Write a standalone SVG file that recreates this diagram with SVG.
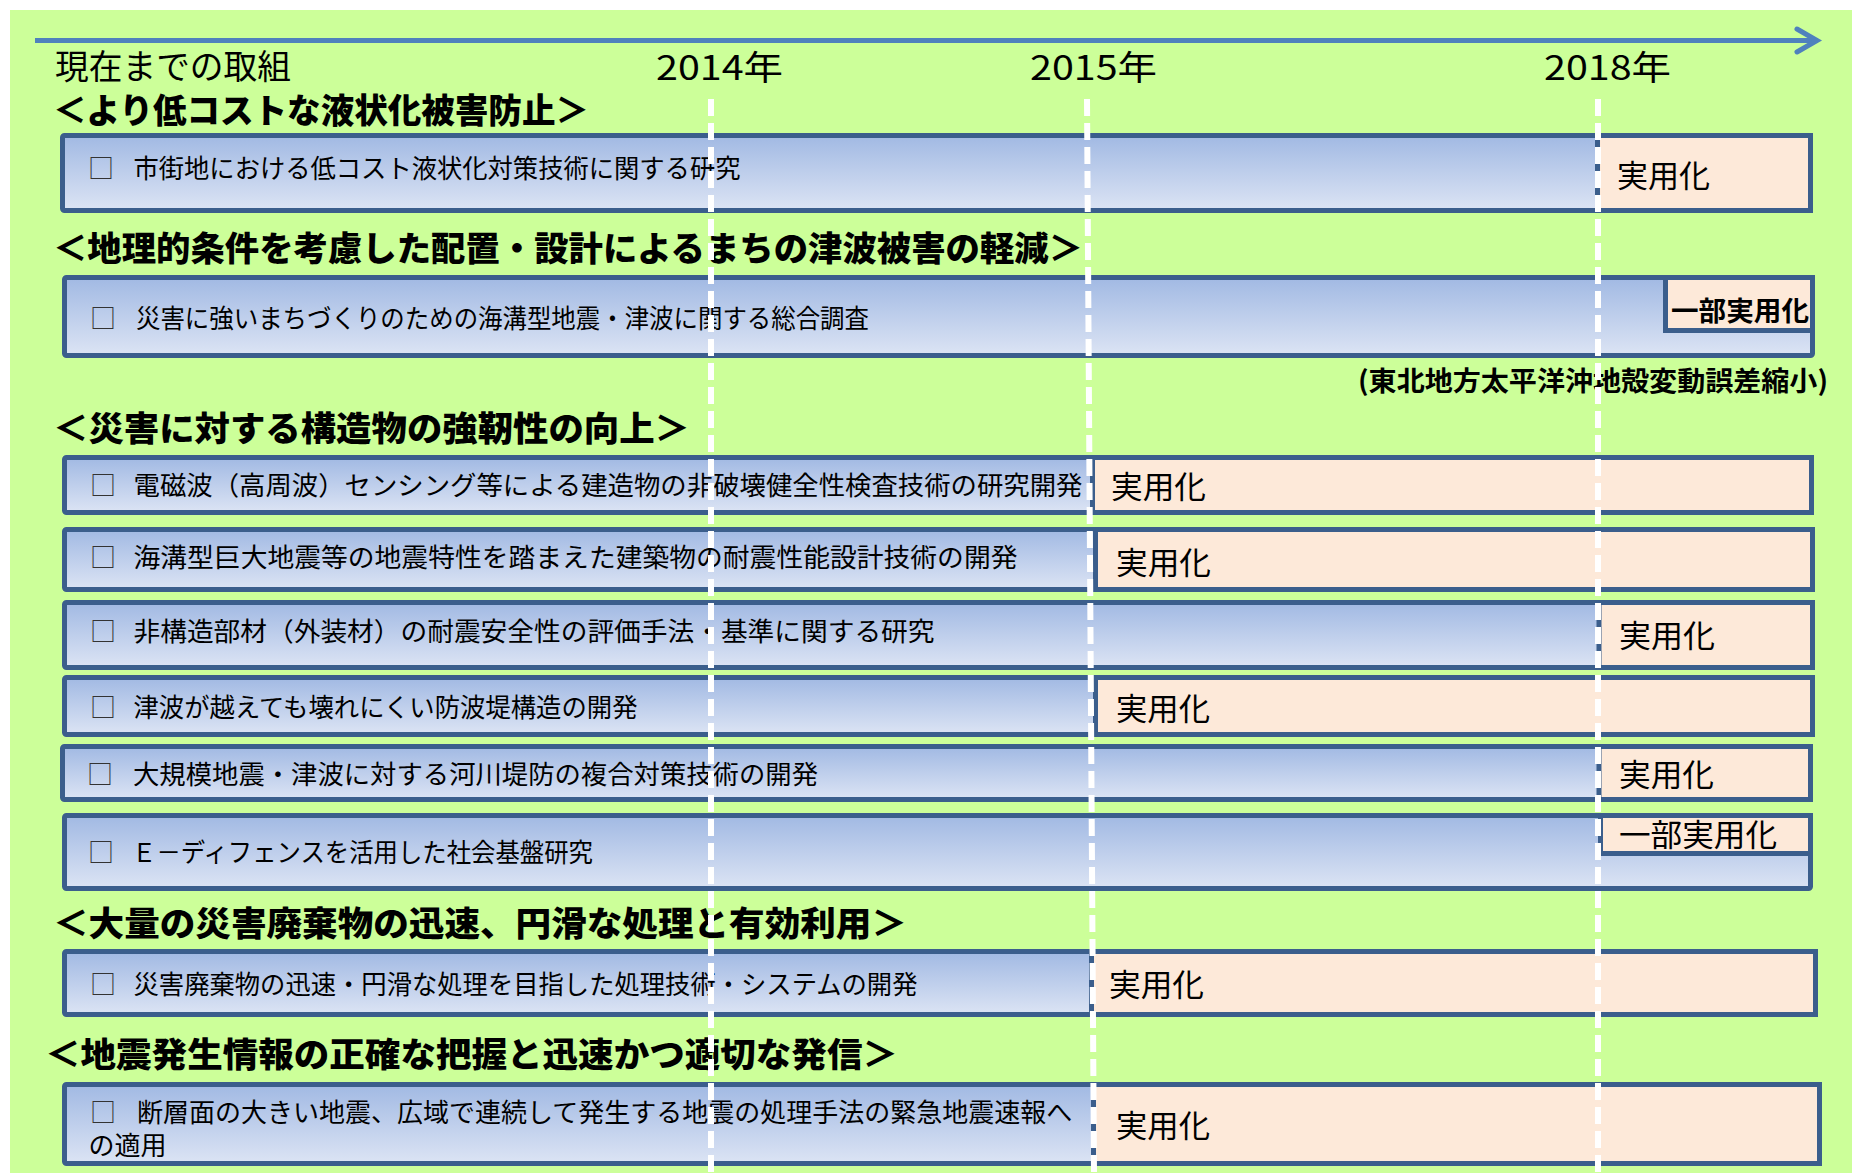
<svg xmlns="http://www.w3.org/2000/svg" width="1852" height="1173" viewBox="0 0 1852 1173">
<defs>
<linearGradient id="barGrad" x1="0" y1="0" x2="0" y2="1">
<stop offset="0" stop-color="#A1B9E3"/>
<stop offset="1" stop-color="#DCE4F4"/>
</linearGradient>
<marker id="openArrow" markerUnits="userSpaceOnUse" markerWidth="34" markerHeight="34" viewBox="-6 -17 34 34" refX="20" refY="0" orient="auto">
<path d="M0,-11.5 L20,0 L0,11.5" fill="none" stroke="#4F81BD" stroke-width="5" stroke-linecap="round"/>
</marker>
<style>
.bar{fill:url(#barGrad);stroke:#3B5E8C;stroke-width:5}
.peach{fill:#FDE9D9;stroke:#3B5E8C;stroke-width:5}
text{font-family:"Noto Sans CJK JP","Noto Sans CJK SC",sans-serif;fill:#000}
.body{font-size:26px}
.box{font-size:26px;fill:#333}
.hdr{font-size:34px;font-weight:900}
.yr{font-size:34px}
.jy{font-size:31px}
.small{font-size:27px;font-weight:700}
.grid{stroke:#FFFFFF;stroke-width:6;stroke-dasharray:17 7;fill:none}
</style>
</defs>

<g id="background">
<rect x="10" y="10" width="1842" height="1163" fill="#CCFF99"/>
</g>

<g id="connectors">
<line x1="35" y1="40.5" x2="1817" y2="40.5" stroke="#4F81BD" stroke-width="5" marker-end="url(#openArrow)"/>
</g>

<g id="timeline-labels">
<text class="yr" x="55" y="78.5" textLength="236" lengthAdjust="spacingAndGlyphs">現在までの取組</text>
<text class="yr" x="656" y="80" textLength="127" lengthAdjust="spacingAndGlyphs">2014年</text>
<text class="yr" x="1030" y="80" textLength="127" lengthAdjust="spacingAndGlyphs">2015年</text>
<text class="yr" x="1544" y="80" textLength="127" lengthAdjust="spacingAndGlyphs">2018年</text>
</g>

<g id="header-1"><text class="hdr" x="53" y="123" textLength="536" lengthAdjust="spacingAndGlyphs">＜より低コストな液状化被害防止＞</text></g>
<g id="header-2"><text class="hdr" x="53" y="261" textLength="1030" lengthAdjust="spacingAndGlyphs">＜地理的条件を考慮した配置・設計によるまちの津波被害の軽減＞</text></g>
<g id="header-3"><text class="hdr" x="53" y="441" textLength="637" lengthAdjust="spacingAndGlyphs">＜災害に対する構造物の強靭性の向上＞</text></g>
<g id="header-4"><text class="hdr" x="53" y="936" textLength="854" lengthAdjust="spacingAndGlyphs">＜大量の災害廃棄物の迅速、円滑な処理と有効利用＞</text></g>
<g id="header-5"><text class="hdr" x="45" y="1067" textLength="853" lengthAdjust="spacingAndGlyphs">＜地震発生情報の正確な把握と迅速かつ適切な発信＞</text></g>

<g id="row-1">
<rect class="bar" x="62.5" y="135.5" width="1748" height="75" rx="2"/>
<rect class="peach" x="1597.5" y="135.5" width="213" height="75"/>
<text class="box" x="88" y="177.5">□</text>
<text class="body" x="133.5" y="177.5" textLength="607" lengthAdjust="spacingAndGlyphs">市街地における低コスト液状化対策技術に関する研究</text>
<text class="jy" x="1617" y="187" textLength="93" lengthAdjust="spacingAndGlyphs">実用化</text>
</g>

<g id="row-2">
<rect class="bar" x="64.5" y="277.5" width="1748" height="78" rx="2"/>
<rect class="peach" x="1665.5" y="277.5" width="147" height="53"/>
<text class="box" x="90" y="328">□</text>
<text class="body" x="136" y="328" textLength="733" lengthAdjust="spacingAndGlyphs">災害に強いまちづくりのための海溝型地震・津波に関する総合調査</text>
<text class="small" x="1671" y="321" textLength="138" lengthAdjust="spacingAndGlyphs">一部実用化</text>
<text class="small" x="1358" y="391" textLength="470" lengthAdjust="spacingAndGlyphs">(東北地方太平洋沖地殻変動誤差縮小)</text>
</g>

<g id="row-3">
<rect class="bar" x="64.5" y="457.5" width="1747" height="55" rx="2"/>
<rect class="peach" x="1092.5" y="457.5" width="719" height="55"/>
<text class="box" x="90" y="495">□</text>
<text class="body" x="133.5" y="495" textLength="949" lengthAdjust="spacingAndGlyphs">電磁波（高周波）センシング等による建造物の非破壊健全性検査技術の研究開発</text>
<text class="jy" x="1111" y="498" textLength="95" lengthAdjust="spacingAndGlyphs">実用化</text>
</g>

<g id="row-4">
<rect class="bar" x="64.5" y="529.5" width="1748" height="60" rx="2"/>
<rect class="peach" x="1095.5" y="529.5" width="717" height="60"/>
<text class="box" x="90" y="567">□</text>
<text class="body" x="133.5" y="567" textLength="884" lengthAdjust="spacingAndGlyphs">海溝型巨大地震等の地震特性を踏まえた建築物の耐震性能設計技術の開発</text>
<text class="jy" x="1116" y="574" textLength="95" lengthAdjust="spacingAndGlyphs">実用化</text>
</g>

<g id="row-5">
<rect class="bar" x="64.5" y="602.5" width="1748" height="65" rx="2"/>
<rect class="peach" x="1599" y="602.5" width="213.5" height="65"/>
<text class="box" x="90" y="641">□</text>
<text class="body" x="133.5" y="641" textLength="801" lengthAdjust="spacingAndGlyphs">非構造部材（外装材）の耐震安全性の評価手法・基準に関する研究</text>
<text class="jy" x="1619" y="647" textLength="96" lengthAdjust="spacingAndGlyphs">実用化</text>
</g>

<g id="row-6">
<rect class="bar" x="64.5" y="677.5" width="1748" height="57" rx="2"/>
<rect class="peach" x="1095.5" y="677.5" width="717" height="57"/>
<text class="box" x="90" y="717">□</text>
<text class="body" x="133.5" y="717" textLength="504" lengthAdjust="spacingAndGlyphs">津波が越えても壊れにくい防波堤構造の開発</text>
<text class="jy" x="1116" y="720" textLength="94" lengthAdjust="spacingAndGlyphs">実用化</text>
</g>

<g id="row-7">
<rect class="bar" x="62.5" y="746.5" width="1748" height="53" rx="2"/>
<rect class="peach" x="1599" y="746.5" width="211.5" height="53"/>
<text class="box" x="87" y="784">□</text>
<text class="body" x="133" y="784" textLength="685" lengthAdjust="spacingAndGlyphs">大規模地震・津波に対する河川堤防の複合対策技術の開発</text>
<text class="jy" x="1619" y="786" textLength="95" lengthAdjust="spacingAndGlyphs">実用化</text>
</g>

<g id="row-8">
<rect class="bar" x="64.5" y="815.5" width="1746" height="73" rx="2"/>
<rect class="peach" x="1600.5" y="815.5" width="210" height="38"/>
<text class="box" x="88" y="862">□</text>
<text class="body" x="132" y="862" textLength="461" lengthAdjust="spacingAndGlyphs">Ｅ－ディフェンスを活用した社会基盤研究</text>
<text class="jy" x="1619" y="846" textLength="158" lengthAdjust="spacingAndGlyphs">一部実用化</text>
</g>

<g id="row-9">
<rect class="bar" x="64.5" y="951.5" width="1751" height="63" rx="2"/>
<rect class="peach" x="1091.5" y="951.5" width="724" height="63"/>
<text class="box" x="90" y="994">□</text>
<text class="body" x="133.5" y="994" textLength="784" lengthAdjust="spacingAndGlyphs">災害廃棄物の迅速・円滑な処理を目指した処理技術・システムの開発</text>
<text class="jy" x="1109" y="996" textLength="95" lengthAdjust="spacingAndGlyphs">実用化</text>
</g>

<g id="row-10">
<rect class="bar" x="64.5" y="1084.5" width="1755" height="79" rx="2"/>
<rect class="peach" x="1093.5" y="1084.5" width="726" height="79"/>
<text class="body"><tspan class="box" x="90" y="1122">□</tspan><tspan x="137" y="1122">断層面の大きい地震、広域で連続して発生する地震の処理手法の緊急地震速報へ</tspan><tspan x="88.5" y="1155">の適用</tspan></text>
<text class="jy" x="1116" y="1137" textLength="94" lengthAdjust="spacingAndGlyphs">実用化</text>
</g>

<g id="gridlines">
<line class="grid" x1="711" y1="99" x2="711" y2="1173"/>
<line class="grid" x1="1087" y1="99" x2="1094" y2="1173"/>
<line class="grid" x1="1598" y1="99" x2="1598" y2="1173"/>
</g>
</svg>
